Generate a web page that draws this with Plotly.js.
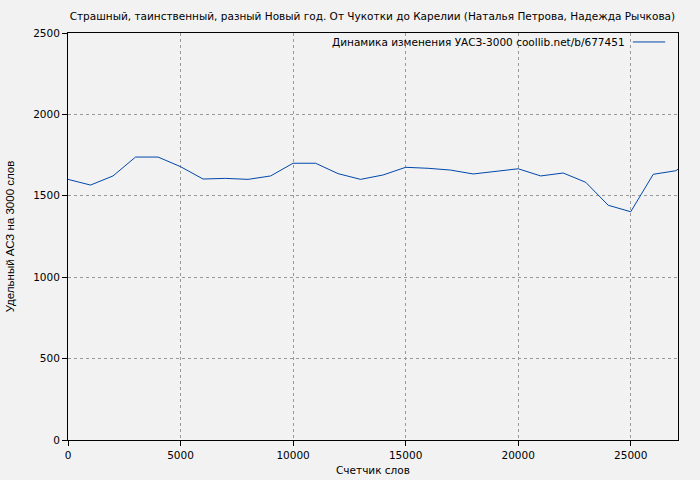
<!DOCTYPE html>
<html>
<head>
<meta charset="utf-8">
<script src="https://cdn.plot.ly/plotly-3.0.1.min.js"></script>
<style>html,body{margin:0;padding:0;background:#f2f2f2;}</style>
</head>
<body>
<div id="chart" style="width:700px;height:480px;"></div>
<script>
const words = [0,1000,2000,3000,4000,5000,6000,7000,8000,9000,10000,11000,12000,13000,14000,15000,16000,17000,18000,19000,20000,21000,22000,23000,24000,25000,26000,27000,27100];
const values = [1601,1566,1622,1738,1738,1679,1603,1607,1601,1622,1700,1700,1636,1601,1628,1675,1669,1658,1634,1650,1666,1622,1640,1583,1442,1402,1632,1654,1663];
const xTicks = [0,5000,10000,15000,20000,25000];
const yTicks = [0,500,1000,1500,2000,2500];
const titleText = "Страшный, таинственный, разный Новый год. От Чукотки до Карелии (Наталья Петрова, Надежда Рычкова)";
const legendText = "Динамика изменения УАСЗ-3000 coollib.net/b/677451";
const xTitle = "Счетчик слов";
const yTitle = "Удельный АСЗ на 3000 слов";

const font = {family: "DejaVu Sans, sans-serif", size: 10.5, color: "#000"};
const yTitleFont = {family: "Liberation Sans, Arial, sans-serif", size: 11.5, color: "#000"};
const trace = {
  x: words, y: values, type: "scatter", mode: "lines",
  line: {color: "#0047ab", width: 1}, name: legendText, showlegend: false
};
const axisCommon = {
  showline: true, linecolor: "#000", linewidth: 1, mirror: true,
  ticks: "outside", ticklen: 5, tickcolor: "#000",
  showgrid: true, gridcolor: "#999", griddash: "dot", gridwidth: 1,
  zeroline: false, tickfont: font
};
const layout = {
  width: 700, height: 480,
  paper_bgcolor: "#f2f2f2", plot_bgcolor: "#f2f2f2",
  margin: {l: 68, r: 22, t: 33, b: 40},
  font: font,
  title: {text: titleText, font: font, x: 0.532, xanchor: "center", y: 0.966, yanchor: "middle"},
  xaxis: Object.assign({}, axisCommon, {
    range: [0, 27100], tickvals: xTicks, ticktext: xTicks.map(String),
    title: {text: xTitle, font: font, standoff: 7}
  }),
  yaxis: Object.assign({}, axisCommon, {
    range: [0, 2500], tickvals: yTicks, ticktext: yTicks.map(String),
    title: {text: yTitle, font: yTitleFont, standoff: 16}
  }),
  annotations: [{
    xref: "paper", yref: "paper", x: 0.916, y: 0.978, xanchor: "right", yanchor: "middle",
    text: legendText, showarrow: false, font: font
  }],
  shapes: [{
    type: "line", xref: "paper", yref: "paper", x0: 0.926, x1: 0.979, y0: 0.978, y1: 0.978,
    line: {color: "#0047ab", width: 1}
  }]
};
Plotly.newPlot("chart", [trace], layout, {displayModeBar: false, staticPlot: true});
</script>
</body>
</html>
